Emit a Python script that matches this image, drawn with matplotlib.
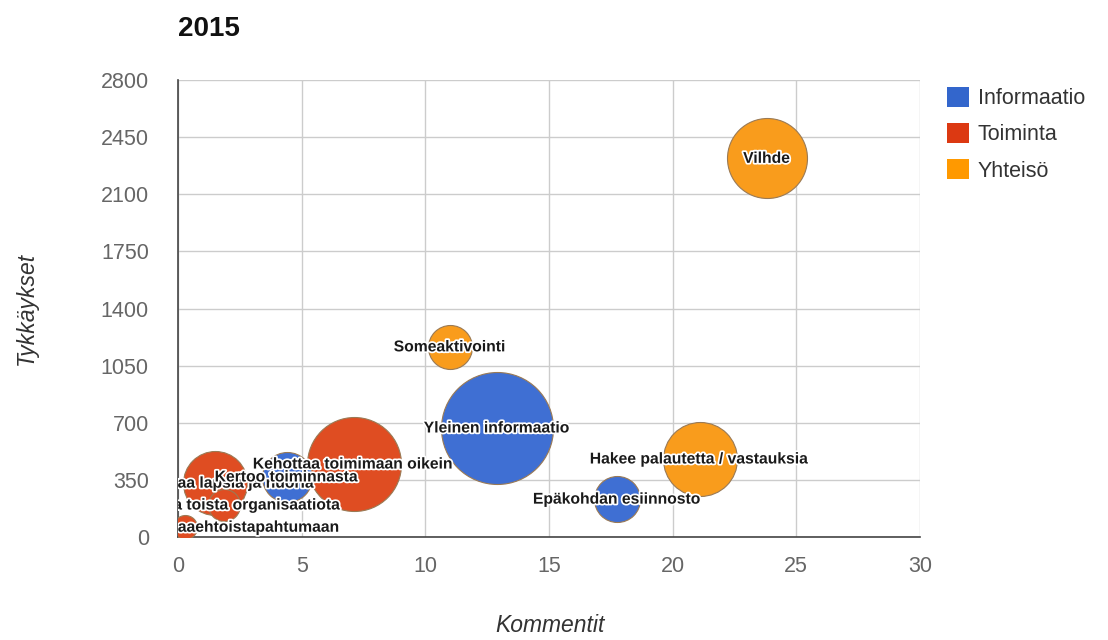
import matplotlib
matplotlib.use("Agg")
import matplotlib.pyplot as plt
import matplotlib.patheffects as pe
from matplotlib.patches import Patch

# Data
labels = ["Vilhde", "Someaktivointi", "Yleinen informaatio",
          "Hakee palautetta / vastauksia", "Epäkohdan esiinnosto",
          "Kehottaa toimimaan oikein", "Kertoo toiminnasta",
          "Kannustaa lapsia ja nuoria", "Mainostaa toista organisaatiota",
          "Kutsuu mukaan vapaaehtoistapahtumaan"]
kommentit = [23.8, 11.0, 12.9, 21.1, 17.75, 7.1, 4.4, 1.5, 1.85, 0.3]
tykkaykset = [2320, 1165, 668, 478, 232, 447, 368, 330, 196, 60]
luokka = ["Yhteisö", "Yhteisö", "Informaatio", "Yhteisö", "Informaatio",
          "Toiminta", "Informaatio", "Toiminta", "Toiminta", "Toiminta"]
koko = [40, 22, 56, 37, 23, 47, 25, 32, 16, 12]

categories = ["Informaatio", "Toiminta", "Yhteisö"]
colors = {"Informaatio": "#3f6fd3", "Toiminta": "#df4d22", "Yhteisö": "#f99c1c"}
legend_colors = {"Informaatio": "#3366cc", "Toiminta": "#dc3912", "Yhteisö": "#ff9900"}

x_ticks = [0, 5, 10, 15, 20, 25, 30]
y_ticks = [0, 350, 700, 1050, 1400, 1750, 2100, 2450, 2800]

plt.rcParams['font.family'] = ['Liberation Sans', 'DejaVu Sans']

fig = plt.figure(figsize=(11.08, 6.4), dpi=100)
ax = fig.add_axes([0.1606, 0.1609, 0.8303 - 0.1606, 0.875 - 0.1609])

# bubbles, larger first so smaller ones stay on top
order = sorted(range(len(labels)), key=lambda i: -koko[i])
for z, i in enumerate(order):
    d_pt = 2 * koko[i] * 0.72
    ax.scatter(kommentit[i], tykkaykset[i], s=d_pt ** 2,
               color=colors[luokka[i]], edgecolor="#9a7a55", linewidth=0.8,
               zorder=3 + z * 0.01)

for z, i in enumerate(order):
    t = ax.text(kommentit[i], tykkaykset[i], labels[i], ha="center", va="center",
                fontsize=11.3, fontweight="bold", color="#1a1a1a",
                zorder=5 + z * 0.01, clip_on=True)
    t.set_path_effects([pe.withStroke(linewidth=2.5, foreground="white")])

ax.set_xlim(0, 30)
ax.set_ylim(0, 2800)
ax.set_xticks(x_ticks)
ax.set_yticks(y_ticks)
ax.tick_params(length=0, labelsize=15.5, labelcolor="#666666")
ax.tick_params(axis="y", pad=21)
ax.tick_params(axis="x", pad=14)
ax.grid(True, color="#cccccc", linewidth=1)
ax.set_axisbelow(True)
for s in ["top", "right"]:
    ax.spines[s].set_visible(False)
for s in ["left", "bottom"]:
    ax.spines[s].set_color("#444444")
    ax.spines[s].set_linewidth(1.2)

# axis titles placed in figure coords
fig.text(550 / 1108, 1 - 626 / 640, "Kommentit", fontsize=16.5, style="italic",
         color="#333333", ha="center", va="center")
fig.text(26 / 1108, 1 - 308 / 640, "Tykkäykset", fontsize=16.5, style="italic",
         color="#333333", ha="center", va="center", rotation=90)
fig.text(0.1606, 0.955, "2015", fontsize=20, fontweight="bold", color="#111111",
         ha="left", va="center")

handles = [Patch(facecolor=legend_colors[c], edgecolor="none", label=c) for c in categories]
fig.legend(handles=handles, loc="upper left", bbox_to_anchor=(0.837, 0.895),
           frameon=False, fontsize=15.5, handlelength=1.05, handleheight=1.05,
           handletextpad=0.4, labelspacing=0.65, labelcolor="#333333")

fig.savefig("out.png", dpi=100)
